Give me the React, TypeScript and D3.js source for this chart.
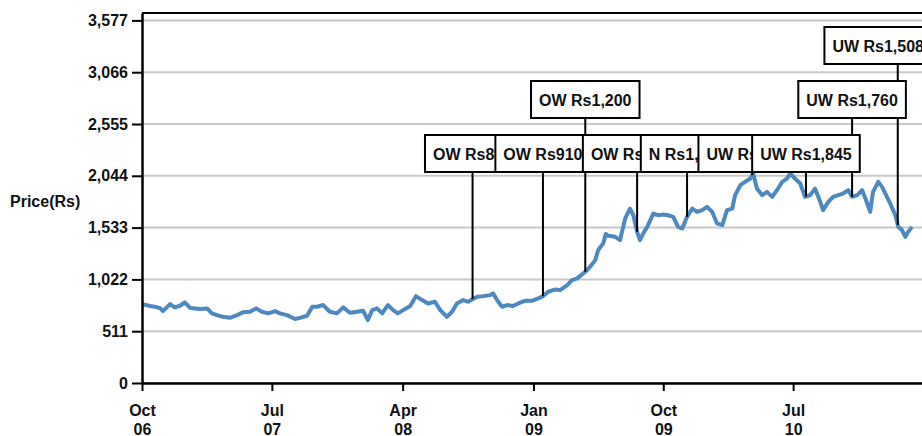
import { useEffect, useRef } from 'react';
import * as d3 from 'd3';

// price series
const dates = [
  '2006-10-02', '2006-10-18', '2006-10-28', '2006-11-08', '2006-11-14', '2006-11-29', '2006-12-09', '2006-12-20',
  '2006-12-30', '2007-01-10', '2007-01-20', '2007-01-31', '2007-02-15', '2007-02-25', '2007-03-08', '2007-03-20',
  '2007-04-04', '2007-04-19', '2007-05-01', '2007-05-16', '2007-05-29', '2007-06-10', '2007-06-23', '2007-07-08',
  '2007-07-18', '2007-08-02', '2007-08-19', '2007-08-29', '2007-09-13', '2007-09-24', '2007-10-04', '2007-10-17',
  '2007-10-31', '2007-11-15', '2007-11-28', '2007-12-12', '2007-12-27', '2008-01-09', '2008-01-19', '2008-01-28',
  '2008-02-07', '2008-02-18', '2008-03-01', '2008-03-12', '2008-03-22', '2008-04-02', '2008-04-17', '2008-04-29',
  '2008-05-12', '2008-05-24', '2008-06-08', '2008-06-19', '2008-07-03', '2008-07-14', '2008-07-24', '2008-08-06',
  '2008-08-17', '2008-08-25', '2008-09-05', '2008-09-17', '2008-10-02', '2008-10-08', '2008-10-19', '2008-10-27',
  '2008-11-07', '2008-11-19', '2008-11-30', '2008-12-14', '2008-12-29', '2009-01-11', '2009-01-21', '2009-02-01',
  '2009-02-16', '2009-02-26', '2009-03-13', '2009-03-23', '2009-04-03', '2009-04-20', '2009-04-30', '2009-05-11',
  '2009-05-17', '2009-05-28', '2009-06-02', '2009-06-08', '2009-06-22', '2009-07-02', '2009-07-13', '2009-07-23',
  '2009-07-30', '2009-08-07', '2009-08-13', '2009-08-20', '2009-08-30', '2009-09-10', '2009-09-20', '2009-10-01',
  '2009-10-11', '2009-10-22', '2009-11-01', '2009-11-10', '2009-11-20', '2009-12-01', '2009-12-11', '2009-12-22',
  '2010-01-01', '2010-01-12', '2010-01-22', '2010-02-02', '2010-02-12', '2010-02-23', '2010-03-01', '2010-03-12',
  '2010-03-22', '2010-04-02', '2010-04-08', '2010-04-16', '2010-04-27', '2010-05-07', '2010-05-18', '2010-05-28',
  '2010-06-08', '2010-06-18', '2010-06-25', '2010-07-05', '2010-07-16', '2010-07-26', '2010-08-06', '2010-08-16',
  '2010-08-27', '2010-09-02', '2010-09-13', '2010-09-23', '2010-10-04', '2010-10-14', '2010-10-25', '2010-11-02',
  '2010-11-13', '2010-11-23', '2010-11-30', '2010-12-10', '2010-12-16', '2010-12-27', '2011-01-04', '2011-01-11',
  '2011-01-21', '2011-02-01', '2011-02-07', '2011-02-15', '2011-02-22', '2011-02-28', '2011-03-08',
];
const prices = [
  778, 759, 752, 739, 709, 778, 746, 762,
  795, 742, 736, 729, 736, 687, 670, 653,
  643, 670, 697, 703, 736, 703, 687, 709,
  687, 670, 631, 643, 663, 752, 752, 769,
  703, 687, 746, 693, 703, 713, 621, 719,
  736, 687, 769, 719, 687, 719, 759, 857,
  818, 785, 801, 719, 653, 703, 785, 818,
  801, 825, 851, 857, 867, 884, 801, 752,
  769, 759, 785, 811, 811, 834, 857, 900,
  923, 916, 966, 1015, 1032, 1097, 1146, 1212,
  1310, 1380, 1470, 1452, 1442, 1409, 1623, 1721,
  1655, 1491, 1409, 1475, 1557, 1672, 1655, 1662,
  1655, 1639, 1540, 1524, 1639, 1721, 1688, 1705,
  1737, 1688, 1574, 1557, 1705, 1721, 1853, 1951,
  1984, 2017, 2066, 1918, 1853, 1885, 1836, 1902,
  1984, 2017, 2066, 2017, 1968, 1836, 1853, 1918,
  1787, 1705, 1787, 1836, 1853, 1869, 1902, 1836,
  1853, 1902, 1820, 1688, 1885, 1984, 1935, 1869,
  1771, 1655, 1540, 1508, 1442, 1491, 1540,
];

const yTicks = [0, 511, 1022, 1533, 2044, 2555, 3066, 3577];
const xTicks = ['2006-10-01', '2007-07-01', '2008-04-01', '2009-01-01', '2009-10-01', '2010-07-01'];

// rating calls
const annDates = ['2008-08-26', '2009-01-21', '2009-04-20', '2009-08-07', '2009-11-20', '2010-04-06', '2010-07-28', '2010-11-02', '2011-02-06'];
const annLabels = ['OW Rs860', 'OW Rs910', 'OW Rs1,200', 'OW Rs1,450', 'N Rs1,700', 'UW Rs1,850', 'UW Rs1,845', 'UW Rs1,760', 'UW Rs1,508'];
const annRows = [0, 0, 1, 0, 0, 0, 0, 1, 2];

const App = () => {
  const svgRef = useRef<SVGSVGElement>(null);

  useEffect(() => {
    const svg = d3.select(svgRef.current);
    svg.selectAll('*').remove();

    const font = '"Liberation Sans", Arial, sans-serif';
    const parse = d3.timeParse('%Y-%m-%d');
    const data = dates.map((d, i) => ({ date: parse(d) as Date, value: prices[i] }));

    const left = 142, right = 932, top = 13, bottom = 383;

    const x = d3.scaleTime()
      .domain([parse('2006-10-01') as Date, parse('2011-04-19') as Date])
      .range([left, right]);
    const y = d3.scaleLinear().domain([0, 3650]).range([bottom, top]);

    // grid
    svg.append('g')
      .selectAll('line')
      .data(yTicks)
      .join('line')
      .attr('x1', left).attr('x2', right)
      .attr('y1', d => y(d)).attr('y2', d => y(d))
      .attr('stroke', '#c8c8c8')
      .attr('stroke-width', 2);

    // frame top / right
    svg.append('path')
      .attr('d', `M${left},${top}H${right}V${bottom}`)
      .attr('fill', 'none')
      .attr('stroke', '#000')
      .attr('stroke-width', 2);

    const line = d3.line<{ date: Date; value: number }>()
      .x(d => x(d.date))
      .y(d => y(d.value));

    svg.append('path')
      .datum(data)
      .attr('fill', 'none')
      .attr('stroke', '#4d89c1')
      .attr('stroke-width', 4)
      .attr('stroke-linejoin', 'round')
      .attr('d', line);

    // y axis
    const yAxis = svg.append('g')
      .attr('transform', `translate(${left},0)`)
      .call(d3.axisLeft(y).tickValues(yTicks).tickSize(10).tickSizeOuter(0).tickPadding(4).tickFormat(d3.format(',')));
    yAxis.select('.domain').attr('stroke-width', 2.5);
    yAxis.selectAll('.tick line').attr('stroke-width', 2);
    yAxis.selectAll('text')
      .attr('font-family', font).attr('font-size', 16).attr('font-weight', 'bold').attr('fill', '#111');

    // x axis
    const xAxis = svg.append('g')
      .attr('transform', `translate(0,${bottom})`)
      .call(d3.axisBottom(x).tickValues(xTicks.map(d => parse(d) as Date)).tickSize(8).tickSizeOuter(0));
    xAxis.select('.domain').attr('stroke-width', 2.5);
    xAxis.selectAll('.tick line').attr('stroke-width', 2);
    xAxis.selectAll<SVGTextElement, Date>('text')
      .text('')
      .attr('y', 0).attr('dy', null)
      .attr('font-family', font).attr('font-size', 16).attr('font-weight', 'bold').attr('fill', '#111')
      .each(function (d) {
        const t = d3.select(this);
        t.append('tspan').attr('x', 0).attr('y', 33).text(d3.timeFormat('%b')(d));
        t.append('tspan').attr('x', 0).attr('y', 52).text(d3.timeFormat('%y')(d));
      });

    svg.append('text')
      .attr('x', 10).attr('y', 207)
      .attr('font-family', font).attr('font-size', 16).attr('font-weight', 'bold').attr('fill', '#111')
      .text('Price(Rs)');

    // annotations
    const bis = d3.bisector((d: { date: Date }) => d.date).left;
    const valueAt = (dt: Date) => {
      const i = Math.max(1, Math.min(data.length - 1, bis(data, dt)));
      const a = data[i - 1], b = data[i];
      const t = (+dt - +a.date) / (+b.date - +a.date);
      return a.value + (b.value - a.value) * t;
    };
    const boxH = 37;
    const rowTop = (r: number) => 135 - r * 54;

    const anns = annDates.map((d, i) => {
      const dt = parse(d) as Date;
      return { cx: x(dt), vy: y(valueAt(dt)), label: annLabels[i], row: annRows[i] };
    });

    svg.append('g')
      .selectAll('line')
      .data(anns)
      .join('line')
      .attr('x1', d => d.cx).attr('x2', d => d.cx)
      .attr('y1', d => rowTop(d.row) + boxH).attr('y2', d => d.vy)
      .attr('stroke', '#000')
      .attr('stroke-width', 2);

    anns.forEach(a => {
      const g = svg.append('g');
      const txt = g.append('text')
        .attr('font-family', font).attr('font-size', 16).attr('font-weight', 'bold').attr('fill', '#111')
        .text(a.label);
      const w = (txt.node() as SVGTextElement).getComputedTextLength() + 16;
      const bx = Math.min(a.cx - w / 2, right - w);
      const by = rowTop(a.row);
      txt.attr('x', bx + 8).attr('y', by + boxH / 2 + 6);
      g.insert('rect', 'text')
        .attr('x', bx).attr('y', by)
        .attr('width', w).attr('height', boxH)
        .attr('fill', '#fff')
        .attr('stroke', '#000')
        .attr('stroke-width', 2);
    });
  }, []);

  return (
    <svg
      ref={svgRef}
      width={922}
      height={436}
      style={{ position: 'absolute', left: 0, top: 0, background: '#fff' }}
    />
  );
};

export default App;
